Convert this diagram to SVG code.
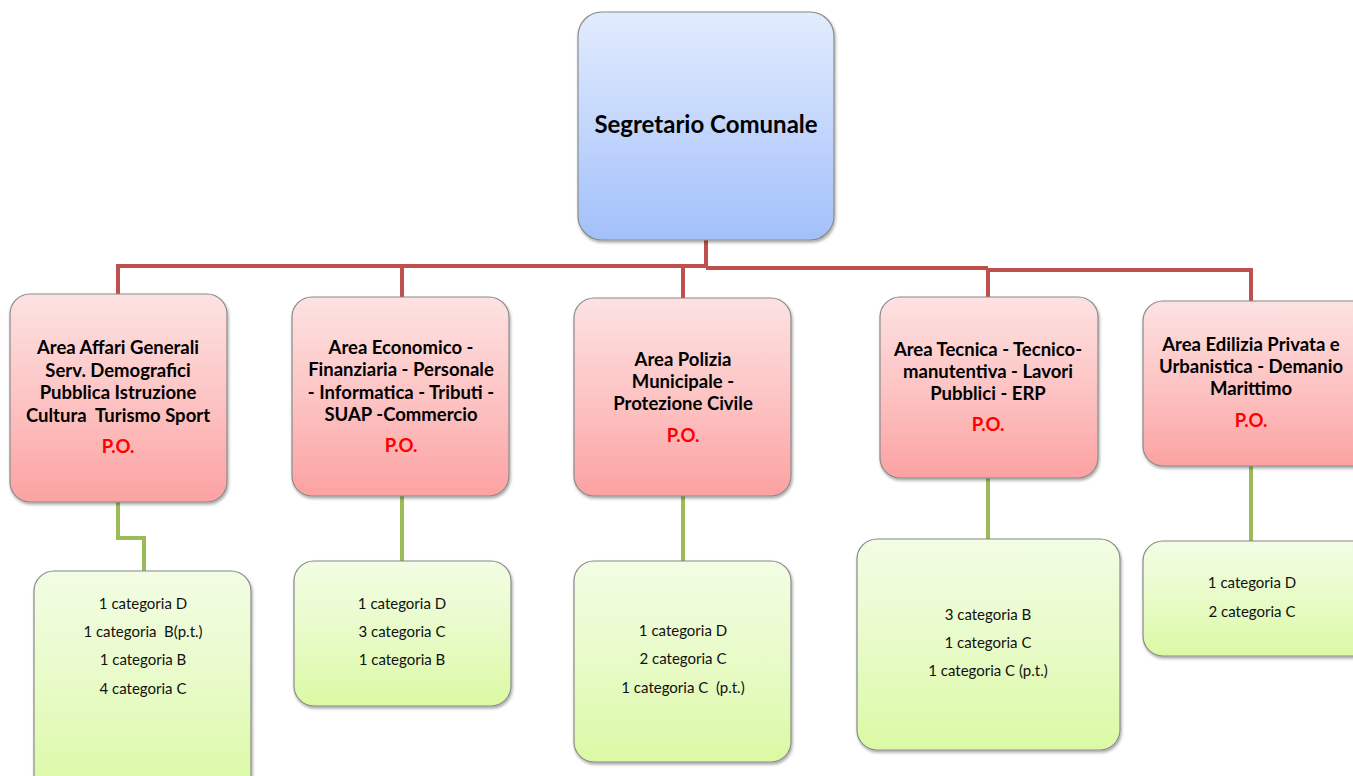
<svg xmlns="http://www.w3.org/2000/svg" width="1353" height="776" viewBox="0 0 1353 776">
<defs>
<linearGradient id="gBlue" x1="0" y1="0" x2="0" y2="1"><stop offset="0" stop-color="#e2ecfd"/><stop offset="0.5" stop-color="#c3d6fc"/><stop offset="1" stop-color="#a2c0fa"/></linearGradient>
<linearGradient id="gRed" x1="0" y1="0" x2="0" y2="1"><stop offset="0" stop-color="#fde2e2"/><stop offset="0.5" stop-color="#fdc4c4"/><stop offset="1" stop-color="#fca2a2"/></linearGradient>
<linearGradient id="gGreen" x1="0" y1="0" x2="0" y2="1"><stop offset="0" stop-color="#f2fde4"/><stop offset="0.5" stop-color="#e8fbc8"/><stop offset="1" stop-color="#dbf9a4"/></linearGradient>
<filter id="sh" x="-10%" y="-10%" width="120%" height="120%"><feDropShadow dx="1" dy="2" stdDeviation="1.5" flood-color="#000" flood-opacity="0.35"/></filter>
</defs>
<style>
.box{stroke:#8a8a8a;stroke-width:1.2;filter:url(#sh)}
.b{fill:url(#gBlue)}.r{fill:url(#gRed)}.g{fill:url(#gGreen)}
text{white-space:pre}
.t{font-family:Lato,"Liberation Sans",sans-serif;font-weight:bold;font-size:18.5px;fill:#000;text-anchor:middle}
.top{font-size:24px}
.po{fill:#ff0000}
.s{font-family:Lato,"Liberation Sans",sans-serif;font-size:15px;fill:#111;text-anchor:middle}
.lr{fill:none;stroke:#c0504d;stroke-width:4}
.lg{fill:none;stroke:#9bbb59;stroke-width:4}
</style>
<rect width="1353" height="776" fill="#fff"/>
<g id="connectors">
<path class="lr" d="M706 240 V268 M118 296 V266 H706 M402 298 V267 M683 299 V268 M706 268 H988 M988 298 V269 M988 270 H1251 V302"/>
<path class="lg" d="M118 502 V538 H144 V571 M402 496 V561 M683 496 V561 M988 478 V539 M1251 466 V541"/>
</g>
<g id="n0"><rect class="box b" x="578" y="12" width="256" height="228" rx="24"/><text class="t top" x="706" y="133">Segretario Comunale</text></g>
<g id="n1"><rect class="box r" x="10" y="294" width="217" height="208" rx="20"/>
<text class="t" x="118" y="354">Area Affari Generali</text><text class="t" x="118" y="377">Serv. Demografici</text><text class="t" x="118" y="399">Pubblica Istruzione</text><text class="t" x="118" y="422">Cultura  Turismo Sport</text><text class="t po" x="118" y="453">P.O.</text></g>
<g id="n2"><rect class="box r" x="292" y="297" width="217" height="199" rx="20"/>
<text class="t" x="401" y="354">Area Economico -</text><text class="t" x="401" y="376">Finanziaria - Personale</text><text class="t" x="401" y="399">- Informatica - Tributi -</text><text class="t" x="401" y="421">SUAP -Commercio</text><text class="t po" x="401" y="452">P.O.</text></g>
<g id="n3"><rect class="box r" x="574" y="298" width="217" height="198" rx="20"/>
<text class="t" x="683" y="366">Area Polizia</text><text class="t" x="683" y="388">Municipale -</text><text class="t" x="683" y="410">Protezione Civile</text><text class="t po" x="683" y="442">P.O.</text></g>
<g id="n4"><rect class="box r" x="880" y="297" width="218" height="181" rx="20"/>
<text class="t" x="988" y="356">Area Tecnica - Tecnico-</text><text class="t" x="988" y="378">manutentiva - Lavori</text><text class="t" x="988" y="400">Pubblici - ERP</text><text class="t po" x="988" y="431">P.O.</text></g>
<g id="n5"><rect class="box r" x="1143" y="301" width="230" height="165" rx="20"/>
<text class="t" x="1251" y="351">Area Edilizia Privata e</text><text class="t" x="1251" y="373">Urbanistica - Demanio</text><text class="t" x="1251" y="395">Marittimo</text><text class="t po" x="1251" y="427">P.O.</text></g>
<g id="n6"><rect class="box g" x="34" y="571" width="217" height="225" rx="20"/>
<text class="s" x="143" y="609">1 categoria D</text><text class="s" x="143" y="637">1 categoria  B(p.t.)</text><text class="s" x="143" y="665">1 categoria B</text><text class="s" x="143" y="694">4 categoria C</text></g>
<g id="n7"><rect class="box g" x="294" y="561" width="217" height="145" rx="20"/>
<text class="s" x="402" y="609">1 categoria D</text><text class="s" x="402" y="637">3 categoria C</text><text class="s" x="402" y="665">1 categoria B</text></g>
<g id="n8"><rect class="box g" x="574" y="561" width="217" height="201" rx="20"/>
<text class="s" x="683" y="636">1 categoria D</text><text class="s" x="683" y="664">2 categoria C</text><text class="s" x="683" y="693">1 categoria C  (p.t.)</text></g>
<g id="n9"><rect class="box g" x="857" y="539" width="263" height="211" rx="20"/>
<text class="s" x="988" y="620">3 categoria B</text><text class="s" x="988" y="648">1 categoria C</text><text class="s" x="988" y="676">1 categoria C (p.t.)</text></g>
<g id="n10"><rect class="box g" x="1143" y="541" width="230" height="115" rx="20"/>
<text class="s" x="1252" y="588">1 categoria D</text><text class="s" x="1252" y="617">2 categoria C</text></g>
</svg>
